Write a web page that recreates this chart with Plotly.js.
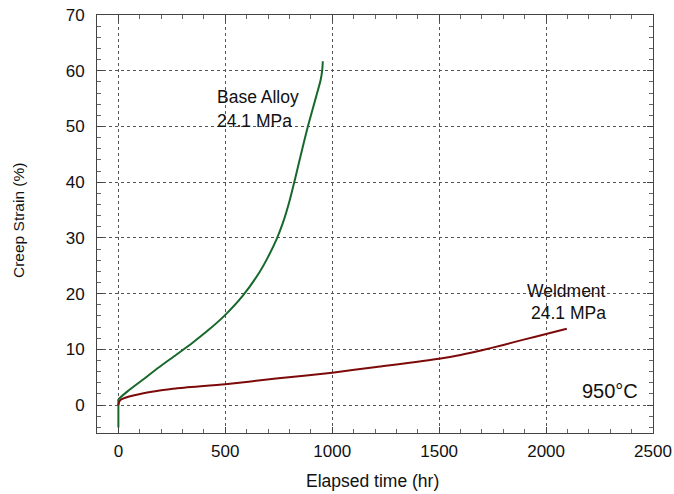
<!DOCTYPE html>
<html>
<head>
<meta charset="utf-8">
<script src="https://cdn.plot.ly/plotly-3.0.1.min.js"></script>
<style>html,body{margin:0;padding:0;background:#fff;}#chart{width:674px;height:494px;}</style>
</head>
<body>
<div id="chart"></div>
<script>
// Base alloy, 24.1 MPa
const baseTime   = [0, 0, 0, 50, 112, 190, 269, 347, 425, 500, 581, 659, 700, 740, 770, 800, 825, 855, 886, 925, 945, 953, 956];
const baseStrain = [-4.0, 0.5, 1.0, 2.7, 4.5, 6.8, 9.0, 11.2, 13.6, 16.2, 19.6, 23.8, 26.6, 29.8, 32.8, 36.6, 40.4, 45.2, 50.0, 55.4, 58.2, 60.0, 61.7];
// Weldment, 24.1 MPa
const weldTime   = [0, 3, 11, 50, 112, 200, 269, 500, 737, 1000, 1206, 1500, 1600, 1700, 1800, 1900, 2000, 2097];
const weldStrain = [0, 0.5, 0.95, 1.55, 2.1, 2.65, 3.0, 3.75, 4.76, 5.83, 6.85, 8.33, 9.0, 9.85, 10.8, 11.8, 12.75, 13.7];

const xTickVals = [0, 500, 1000, 1500, 2000, 2500];
const yTickVals = [0, 10, 20, 30, 40, 50, 60, 70];

const font = 'Liberation Sans, Arial, sans-serif';

const traces = [
  {x: baseTime, y: baseStrain, mode: 'lines', line: {color: '#17692b', width: 2, shape: 'spline', smoothing: 0.6}, name: 'Base Alloy', hoverinfo: 'skip'},
  {x: weldTime, y: weldStrain, mode: 'lines', line: {color: '#7d0a0a', width: 2, shape: 'spline', smoothing: 0.6}, name: 'Weldment', hoverinfo: 'skip'}
];

const axisCommon = {
  showline: true, linecolor: '#444', linewidth: 1, mirror: 'ticks',
  ticks: 'inside', ticklen: 6, tickcolor: '#444', tickwidth: 1,
  showgrid: true, gridcolor: '#555', griddash: 'dot', gridwidth: 1,
  zeroline: false,
  tickfont: {family: font, size: 17, color: '#111'}
};

const layout = {
  width: 674, height: 494,
  margin: {l: 97, r: 21, t: 15, b: 61},
  paper_bgcolor: '#fff', plot_bgcolor: '#fff',
  showlegend: false,
  font: {family: font, color: '#111'},
  xaxis: Object.assign({}, axisCommon, {
    range: [-100, 2500], tickvals: xTickVals, ticklabelstandoff: 3,
    minor: {dtick: 100, tick0: 0, ticks: 'inside', ticklen: 4, tickcolor: '#666', showgrid: false}
  }),
  yaxis: Object.assign({}, axisCommon, {
    range: [-5, 70], tickvals: yTickVals, ticklabelstandoff: 8,
    minor: {dtick: 2, tick0: 0, ticks: 'inside', ticklen: 4, tickcolor: '#666', showgrid: false}
  }),
  annotations: [
    {x: 0.4955, y: -0.1148, xref: 'paper', yref: 'paper', text: 'Elapsed time (hr)', showarrow: false, xanchor: 'center', yanchor: 'middle', font: {family: font, size: 17.5, color: '#111'}},
    {x: -0.1403, y: 0.5096, xref: 'paper', yref: 'paper', text: 'Creep Strain (%)', textangle: -90, showarrow: false, xanchor: 'center', yanchor: 'middle', font: {family: font, size: 15.5, color: '#111'}},
    {x: 453, y: 55.2, xref: 'x', yref: 'y', text: 'Base Alloy', showarrow: false, xanchor: 'left', yanchor: 'middle', font: {family: font, size: 17.5, color: '#111'}},
    {x: 453, y: 51.0, xref: 'x', yref: 'y', text: '24.1 MPa', showarrow: false, xanchor: 'left', yanchor: 'middle', font: {family: font, size: 17.5, color: '#111'}},
    {x: 1900, y: 20.5, xref: 'x', yref: 'y', text: 'Weldment', showarrow: false, xanchor: 'left', yanchor: 'middle', font: {family: font, size: 17.5, color: '#111'}},
    {x: 1922, y: 16.5, xref: 'x', yref: 'y', text: '24.1 MPa', showarrow: false, xanchor: 'left', yanchor: 'middle', font: {family: font, size: 17.5, color: '#111'}},
    {x: 2440, y: 2.45, xref: 'x', yref: 'y', text: '950°C', showarrow: false, xanchor: 'right', yanchor: 'middle', font: {family: font, size: 20, color: '#111'}}
  ]
};

Plotly.newPlot('chart', traces, layout, {displayModeBar: false, staticPlot: true});
</script>
</body>
</html>
